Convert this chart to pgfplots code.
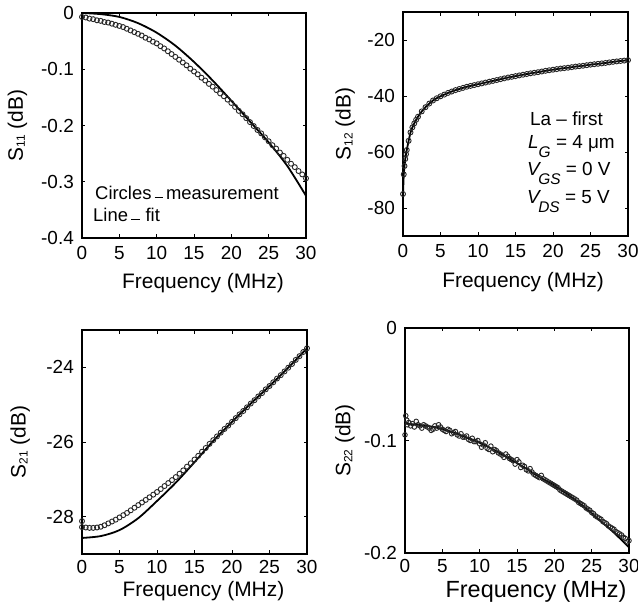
\documentclass[border=0pt]{standalone}
\usepackage{fontspec}
\setmainfont{Liberation Sans}
\usepackage{pgfplots}
\usepackage{pgfplotstable}
\pgfplotsset{compat=1.18}

\newcommand{\tkf}{\fontsize{19}{19}\selectfont}
\newcommand{\lbf}{\fontsize{21}{21}\selectfont}
\newcommand{\lsub}[1]{\raisebox{-2bp}{\fontsize{12}{12}\selectfont #1}}
\newcommand{\isub}[1]{\raisebox{-9bp}{\fontsize{15.5}{15.5}\selectfont\itshape #1}}
\newcommand{\shortdash}[1]{\rule[#1]{8.5bp}{1.3bp}}

% measured S11
\pgfplotstableread{
f s
0 -0.007
0.5 -0.008
1 -0.010
1.5 -0.011
2 -0.013
2.5 -0.014
3 -0.016
3.5 -0.017
4 -0.019
4.5 -0.021
5 -0.023
5.5 -0.025
6 -0.028
6.5 -0.031
7 -0.034
7.5 -0.037
8 -0.040
8.5 -0.044
9 -0.047
9.5 -0.051
10 -0.054
10.5 -0.059
11 -0.063
11.5 -0.068
12 -0.073
12.5 -0.078
13 -0.083
13.5 -0.088
14 -0.093
14.5 -0.099
15 -0.104
15.5 -0.109
16 -0.115
16.5 -0.120
17 -0.126
17.5 -0.131
18 -0.137
18.5 -0.143
19 -0.148
19.5 -0.154
20 -0.160
20.5 -0.167
21 -0.174
21.5 -0.180
22 -0.187
22.5 -0.194
23 -0.201
23.5 -0.208
24 -0.214
24.5 -0.221
25 -0.228
25.5 -0.235
26 -0.241
26.5 -0.248
27 -0.254
27.5 -0.261
28 -0.268
28.5 -0.274
29 -0.281
29.5 -0.287
30 -0.294
}\measA

% fit S11
\pgfplotstableread{
f s
0 0.000
2.5 -0.002
5 -0.007
7.5 -0.018
10 -0.035
12.5 -0.058
15 -0.087
17.5 -0.120
20 -0.156
22.5 -0.193
25 -0.230
27.5 -0.272
30 -0.325
}\fitA

% measured S12
\pgfplotstableread{
f s
0 -75.0
0.1 -68.0
0.2 -65.0
0.3 -62.5
0.4 -60.8
0.5 -59.3
0.75 -56.0
1 -53.0
1.25 -51.2
1.5 -49.8
1.75 -48.5
2 -47.4
2.5 -45.5
3 -44.0
3.5 -42.7
4 -41.6
4.5 -40.8
5 -40.1
5.5 -39.5
6 -38.9
6.5 -38.4
7 -37.9
7.5 -37.5
8 -37.1
8.5 -36.7
9 -36.4
9.5 -36.1
10 -35.8
10.5 -35.5
11 -35.2
11.5 -34.9
12 -34.6
12.5 -34.3
13 -34.0
13.5 -33.7
14 -33.4
14.5 -33.15
15 -32.9
15.5 -32.65
16 -32.4
16.5 -32.15
17 -31.9
17.5 -31.7
18 -31.5
18.5 -31.25
19 -31.0
19.5 -30.8
20 -30.6
20.5 -30.4
21 -30.2
21.5 -30.05
22 -29.9
22.5 -29.7
23 -29.5
23.5 -29.35
24 -29.2
24.5 -29.0
25 -28.8
25.5 -28.65
26 -28.5
26.5 -28.35
27 -28.2
27.5 -28.0
28 -27.8
28.5 -27.65
29 -27.5
29.5 -27.35
30 -27.2
}\measB

% measured S21
\pgfplotstableread{
f s
0 -28.12
0 -28.28
0.5 -28.29
1 -28.30
1.5 -28.30
2 -28.29
2.5 -28.27
3 -28.23
3.5 -28.18
4 -28.13
4.5 -28.08
5 -28.02
5.5 -27.96
6 -27.90
6.5 -27.83
7 -27.76
7.5 -27.69
8 -27.62
8.5 -27.55
9 -27.48
9.5 -27.41
10 -27.34
10.5 -27.26
11 -27.18
11.5 -27.10
12 -27.02
12.5 -26.94
13 -26.85
13.5 -26.76
14 -26.66
14.5 -26.57
15 -26.47
15.5 -26.37
16 -26.26
16.5 -26.16
17 -26.05
17.5 -25.95
18 -25.85
18.5 -25.75
19 -25.65
19.5 -25.56
20 -25.46
20.5 -25.36
21 -25.26
21.5 -25.17
22 -25.07
22.5 -24.97
23 -24.88
23.5 -24.78
24 -24.69
24.5 -24.59
25 -24.50
25.5 -24.40
26 -24.30
26.5 -24.21
27 -24.11
27.5 -24.01
28 -23.91
28.5 -23.80
29 -23.70
29.5 -23.59
30 -23.49
}\measC

% fit S21
\pgfplotstableread{
f s
0 -28.57
2.5 -28.52
5 -28.36
7.5 -28.04
10 -27.58
12.5 -27.09
15 -26.54
17.5 -25.97
20 -25.46
22.5 -24.97
25 -24.50
27.5 -24.01
30 -23.49
}\fitC

% measured S22
\pgfplotstableread{
f s
0 -0.095
0.1 -0.078
0.25 -0.082
0.3 -0.086
0.5 -0.084
0.75 -0.087
1 -0.085
1.25 -0.088
1.5 -0.083
1.75 -0.086
2 -0.087
2.25 -0.089
2.5 -0.086
2.75 -0.087
3 -0.088
3.25 -0.089
3.5 -0.091
3.75 -0.090
4 -0.087
4.25 -0.089
4.5 -0.086
4.75 -0.088
5 -0.090
5.25 -0.091
5.5 -0.092
5.75 -0.090
6 -0.091
6.25 -0.094
6.5 -0.093
6.75 -0.092
7 -0.095
7.25 -0.096
7.5 -0.094
7.75 -0.097
8 -0.097
8.25 -0.096
8.5 -0.099
8.75 -0.100
9 -0.098
9.25 -0.101
9.5 -0.101
9.75 -0.100
10 -0.103
10.25 -0.106
10.5 -0.104
10.75 -0.102
11 -0.107
11.25 -0.108
11.5 -0.105
11.75 -0.110
12 -0.108
12.25 -0.109
12.5 -0.111
12.75 -0.112
13 -0.113
13.25 -0.115
13.5 -0.112
13.75 -0.114
14 -0.116
14.25 -0.117
14.5 -0.118
14.75 -0.121
15 -0.117
15.25 -0.119
15.5 -0.124
15.75 -0.122
16 -0.123
16.25 -0.126
16.5 -0.127
16.75 -0.125
17 -0.128
17.25 -0.130
17.5 -0.131
17.75 -0.132
18 -0.133
18.25 -0.131
18.5 -0.134
18.75 -0.135
19 -0.136
19.25 -0.137
19.5 -0.138
19.75 -0.139
20 -0.140
20.25 -0.141
20.5 -0.142
20.75 -0.144
21 -0.145
21.25 -0.146
21.5 -0.147
21.75 -0.148
22 -0.149
22.25 -0.150
22.5 -0.151
22.75 -0.152
23 -0.153
23.25 -0.155
23.5 -0.156
23.75 -0.157
24 -0.158
24.25 -0.160
24.5 -0.161
24.75 -0.162
25 -0.164
25.25 -0.165
25.5 -0.167
25.75 -0.168
26 -0.169
26.25 -0.170
26.5 -0.172
26.75 -0.173
27 -0.174
27.25 -0.176
27.5 -0.177
27.75 -0.178
28 -0.179
28.25 -0.181
28.5 -0.182
28.75 -0.183
29 -0.184
29.25 -0.186
29.5 -0.187
29.75 -0.190
30 -0.189
}\measD

% fit S22
\pgfplotstableread{
f s
0 -0.0850
2 -0.0862
4 -0.0882
6 -0.0918
8 -0.0968
10 -0.1020
12 -0.1086
14 -0.1162
16 -0.1240
18 -0.1325
20 -0.1400
22 -0.1490
24 -0.1590
26 -0.1705
28 -0.1820
30 -0.1950
}\fitD

\pgfplotsset{
  sp/.style={
    scale only axis,
    anchor=south west,
    xmin=0, xmax=30,
    xtick={0,5,...,30},
    tick align=inside,
    major tick length=3.5bp,
    every tick/.style={black, line width=0.9bp},
    axis line style={line width=1.8bp},
    /pgf/number format/assume math mode=true,
    ticklabel style={font=\tkf},
    xticklabel style={anchor=north, inner sep=0pt, yshift=-8bp},
    yticklabel style={anchor=east, inner sep=0pt, xshift=-8bp},
    label style={font=\lbf},
    xlabel={Frequency (MHz)},
    xlabel style={anchor=center},
    ylabel style={anchor=center},
  },
  meas/.style={only marks, mark=o, mark size=2.5bp,
    mark options={draw=black!85, line width=0.9bp}},
  fit/.style={black, line width=1.8bp, no marks},
}

\begin{document}
\begin{tikzpicture}
\useasboundingbox (0,0) rectangle (638bp,608bp);

% S11
\begin{axis}[sp, at={(82bp,370bp)}, width=224bp, height=225bp,
  ymin=-0.4, ymax=0, ytick={-0.4,-0.3,...,0},
  yticklabels={-0.4,-0.3,-0.2,-0.1,0},
  ylabel={S\lsub{11} (dB)},
  xlabel style={at={(axis description cs:0.54,-0.202)}},
  ylabel style={at={(axis description cs:-0.288,0.5)}}]
\addplot[meas] table[x=f, y=s] {\measA};
\addplot[fit, smooth] table[x=f, y=s] {\fitA};
\end{axis}

% S12
\begin{axis}[sp, at={(403bp,372bp)}, width=225bp, height=224bp,
  ymin=-90, ymax=-10, ytick={-80,-60,-40,-20},
  ylabel={S\lsub{12} (dB)},
  xlabel style={at={(axis description cs:0.534,-0.204)}},
  ylabel style={at={(axis description cs:-0.257,0.5)}}]
\addplot[fit] table[x=f, y=s] {\measB};
\addplot[meas] table[x=f, y=s] {\measB};
\end{axis}

% S21
\begin{axis}[sp, at={(82bp,54bp)}, width=225bp, height=224bp,
  ymin=-29, ymax=-23, ytick={-28,-26,-24},
  ylabel={S\lsub{21} (dB)},
  xticklabel style={yshift=2bp},
  xlabel style={at={(axis description cs:0.54,-0.165)}},
  ylabel style={at={(axis description cs:-0.275,0.5)}}]
\addplot[meas] table[x=f, y=s] {\measC};
\addplot[fit, smooth] table[x=f, y=s] {\fitC};
\end{axis}

% S22
\begin{axis}[sp, at={(405bp,55bp)}, width=224bp, height=225bp,
  ymin=-0.2, ymax=0, ytick={-0.2,-0.1,0},
  yticklabels={-0.2,-0.1,0},
  ylabel={S\lsub{22} (dB)},
  xticklabel style={yshift=2bp},
  xlabel style={at={(axis description cs:0.585,-0.172)}, font=\fontsize{23.5}{23.5}\selectfont},
  ylabel style={at={(axis description cs:-0.268,0.5)}}]
\addplot[meas, mark size=2.3bp] table[x=f, y=s] {\measD};
\addplot[fit, smooth] table[x=f, y=s] {\fitD};
\end{axis}

% annotations
\node[anchor=base west, inner sep=0pt, font=\fontsize{18.5}{18.5}\selectfont]
  at (95bp,408bp) {Circles\hspace{3bp}\shortdash{2bp}\hspace{3bp}measurement};
\node[anchor=base west, inner sep=0pt, font=\fontsize{18.5}{18.5}\selectfont]
  at (93bp,386bp) {Line\hspace{3bp}\shortdash{1.5bp}\hspace{6bp}fit};

\begin{scope}[every node/.style={anchor=base west, inner sep=0pt, font=\fontsize{19}{19}\selectfont}]
\node at (530bp,482bp) {La \textendash{} first};
\node at (528bp,459bp) {\textit{L}\isub{G} = 4 μm};
\node at (527bp,432bp) {\textit{V}\kern-3bp\isub{GS} = 0 V};
\node at (527bp,404bp) {\textit{V}\kern-3bp\isub{DS} = 5 V};
\end{scope}
\end{tikzpicture}
\end{document}
